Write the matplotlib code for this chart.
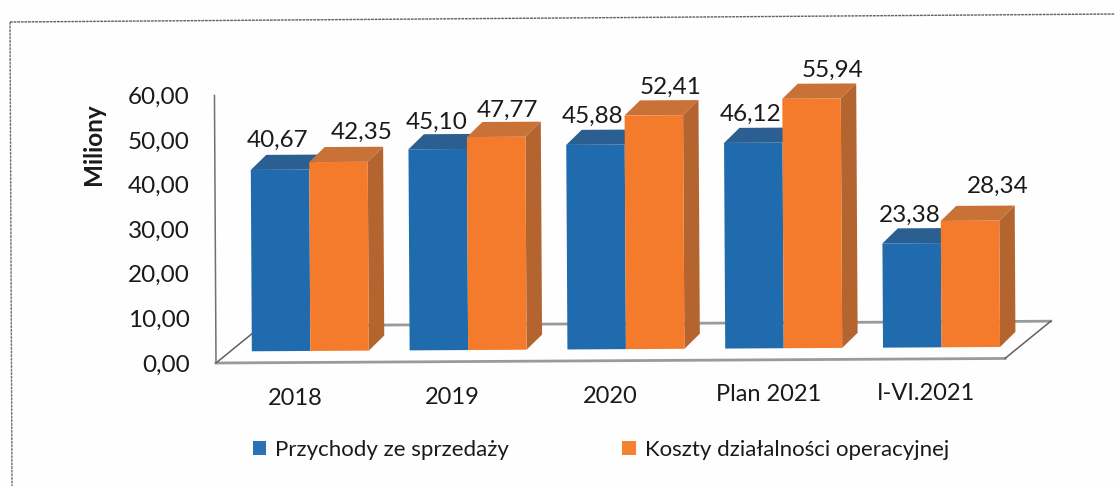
import matplotlib
matplotlib.use("Agg")
import matplotlib.pyplot as plt
from matplotlib.patches import Polygon, Patch, Circle
from matplotlib.lines import Line2D
from matplotlib.transforms import Affine2D

plt.rcParams['font.family'] = ['Lato', 'DejaVu Sans']

categories = ["2018", "2019", "2020", "Plan 2021", "I-VI.2021"]
przychody = [40.67, 45.10, 45.88, 46.12, 23.38]
koszty = [42.35, 47.77, 52.41, 55.94, 28.34]
y_ticks = [0, 10, 20, 30, 40, 50, 60]
series_names = ["Przychody ze sprzedaży", "Koszty działalności operacyjnej"]

W, H = 1115, 486
fig = plt.figure(figsize=(W / 100, H / 100), dpi=100, facecolor="#fefefe")


def px_rect(l, t, r, b):
    return [l / W, 1 - b / H, (r - l) / W, (b - t) / H]


ax = fig.add_axes(px_rect(216, 95.5, 1005, 363))
ax.set_xlim(-0.5, 4.5)
ax.set_ylim(0, 60)
ax.patch.set_alpha(0)
for s in ax.spines.values():
    s.set_visible(False)

ux = 789 / 5      # px per category
uy = 267.5 / 60   # px per unit

# scan tilt, applied around the axis origin in pixel space
tilt = Affine2D().rotate_deg_around(216, H - 363, 0.33)
base = ax.transData + tilt
# bars stand on a plane set back from the front of the floor
bar_tr = ax.transData + Affine2D().translate(15.5, 11.5) + tilt

GRID = "#9a9a9a"
floor_dx, floor_dy = 46 / ux, 37 / uy
ax.plot([-0.5, -0.5], [0, 60], color="#707070", lw=1.1, transform=base, zorder=1, clip_on=False)
ax.plot([-0.5, 4.5], [0, 0], color=GRID, lw=2, transform=base, zorder=1, clip_on=False)
ax.plot([-0.5 + floor_dx, 4.5 + floor_dx], [floor_dy, floor_dy], color=GRID, lw=2,
        transform=base, zorder=1, clip_on=False)
ax.plot([-0.5, -0.5 + floor_dx], [0, floor_dy], color="#606060", lw=1.1, transform=base,
        zorder=1, clip_on=False)
ax.plot([4.5, 4.5 + floor_dx], [0, floor_dy], color="#606060", lw=1.1, transform=base,
        zorder=1, clip_on=False)

bar_w = 58.5 / ux
dx, dy = 15.5 / ux, 15 / uy
BLUE, BLUE_TOP = "#1f6bae", "#2c5f91"
ORANGE, ORANGE_TOP, ORANGE_SIDE = "#f37b2b", "#c97238", "#b4652f"


def bar3d(x0, v, front, top, side=None, z=3):
    x1 = x0 + bar_w
    ax.bar(x0, v, width=bar_w, align="edge", color=front, lw=0, transform=bar_tr, zorder=z + 0.2, clip_on=False)
    ax.add_patch(Polygon([(x0, v), (x1, v), (x1 + dx, v + dy), (x0 + dx, v + dy)], closed=True,
                         fc=top, ec="none", transform=bar_tr, zorder=z, clip_on=False))
    if side:
        ax.add_patch(Polygon([(x1, 0), (x1 + dx, dy), (x1 + dx, v + dy), (x1, v)], closed=True,
                             fc=side, ec="none", transform=bar_tr, zorder=z, clip_on=False))


# label nudges in px, relative to the front top centre of each bar
blue_nudge = [(-3, 29), (-1, 27), (-3, 28), (-3, 28), (-2, 28)]
orange_nudge = [(23, 30), (11, 27), (17, 28), (21, 28), (28, 34)]

for i, (a, b) in enumerate(zip(przychody, koszty)):
    bar3d(i - bar_w, a, BLUE, BLUE_TOP, z=3)
    bar3d(i, b, ORANGE, ORANGE_TOP, ORANGE_SIDE, z=4)
    for x, v, n in ((i - bar_w / 2, a, blue_nudge[i]), (i + bar_w / 2, b, orange_nudge[i])):
        ax.annotate(f"{v:.2f}".replace(".", ","), xy=(x, v), xycoords=bar_tr,
                    xytext=(n[0] * 0.72, n[1] * 0.72), textcoords="offset points",
                    ha="center", va="center", fontsize=17.5, color="#1a1a1a", zorder=6)

ax.set_xticks(range(len(categories)))
ax.set_xticklabels(categories, fontsize=17, color="#1a1a1a")
ax.set_yticks(y_ticks)
ax.set_yticklabels([f"{t:.2f}".replace(".", ",") for t in y_ticks], fontsize=17.5, color="#1a1a1a")
ax.tick_params(axis="both", length=0)
ax.tick_params(axis="x", pad=18)
ax.tick_params(axis="y", pad=19)
for i, lab in enumerate(ax.get_xticklabels()):
    lab.set_transform(lab.get_transform() + Affine2D().translate(0, i * 1.2))

ax.set_ylabel("Miliony", fontsize=17.5, fontweight="bold", color="#1a1a1a")
ax.yaxis.set_label_coords((105 - 216) / 789, (363 - 144) / 267.5)

leg = fig.legend(handles=[Patch(fc="#2a72b5", ec="none"), Patch(fc="#f58233", ec="none")],
                 labels=series_names, ncol=2, frameon=False, fontsize=16,
                 loc="center left", bbox_to_anchor=(253 / W, 1 - 449.5 / H),
                 handlelength=0.6, handleheight=0.6, handletextpad=0.4, columnspacing=5.1,
                 labelcolor="#1a1a1a", borderpad=0, borderaxespad=0)

# scanned frame round the chart
fig.add_artist(Line2D([10 / W, 12 / W], [1 - 22 / H, 0], color="#707070", lw=1, ls=(0, (2, 0.6))))
fig.add_artist(Line2D([10 / W, 1], [1 - 22 / H, 1 - 14 / H], color="#606060", lw=1, ls=(0, (2, 0.6))))

fig.savefig("out.png", dpi=100, facecolor=fig.get_facecolor())
